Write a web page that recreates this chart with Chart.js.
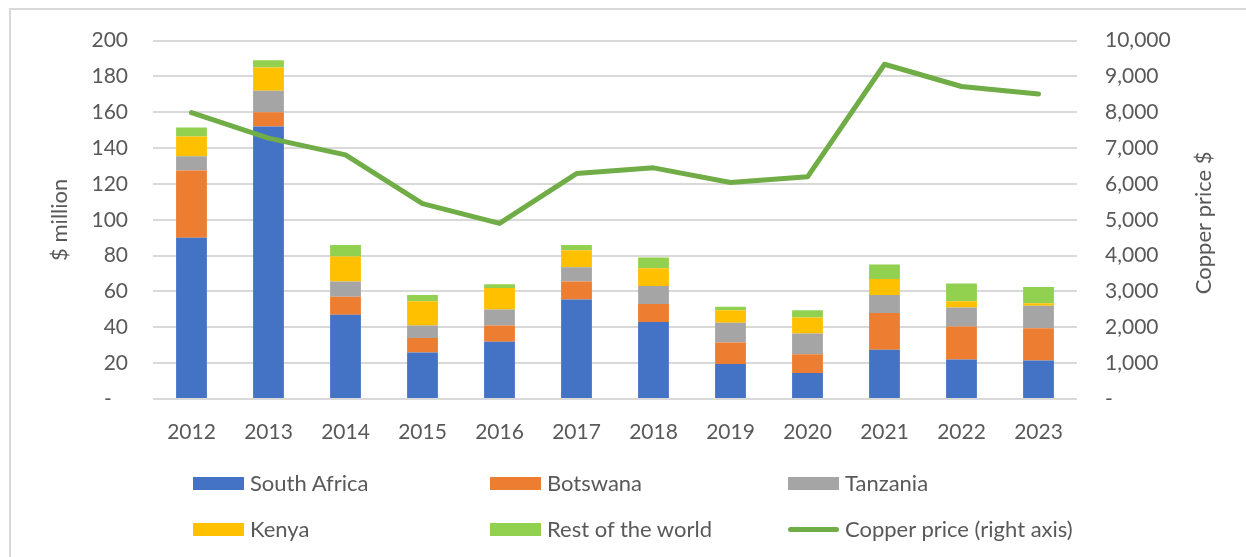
<!DOCTYPE html>
<html>
<head>
<meta charset="utf-8">
<title>Copper exports and copper price</title>
<script src="https://cdn.jsdelivr.net/npm/chart.js@4.4.1/dist/chart.umd.min.js"></script>
<style>
  html, body { margin: 0; padding: 0; background: #fff; }
  body { width: 1246px; height: 557px; overflow: hidden; position: relative; font-family: Lato, sans-serif; }
  #frame {
    position: absolute; left: 9px; top: 8px; width: 1300px; height: 600px;
    border-left: 2px solid #d9d9d9; border-top: 2px solid #d9d9d9;
  }
  #wrap { position: absolute; left: 0; top: 0; width: 1246px; height: 557px; }
  #legend {
    position: absolute; left: 193px; top: 470px;
    display: grid; grid-template-columns: 297px 298px 300px; row-gap: 20px;
    color: #595959; font-size: 22px; line-height: 26px;
  }
  .item { display: flex; align-items: center; height: 26px; }
  .swatch { width: 51px; height: 13px; margin-right: 6px; }
  .swatch.line { height: 5px; border-radius: 3px; }
</style>
</head>
<body>
<div id="frame"></div>
<div id="wrap"><canvas id="chart" width="1246" height="557"></canvas></div>
<div id="legend"></div>
<script>
// Years on the category axis
const years = ['2012', '2013', '2014', '2015', '2016', '2017', '2018', '2019', '2020', '2021', '2022', '2023'];

// Export values by destination, $ million
const southAfrica = [90, 152, 47, 26, 32, 55.5, 43, 19.5, 14.5, 27.5, 22, 21.5];
const botswana    = [37.5, 8, 10, 8, 9, 10, 10, 12, 10.5, 20.5, 18.5, 18];
const tanzania    = [8, 12, 8.5, 7, 9, 8, 10, 11, 11.5, 10, 10.5, 12.5];
const kenya       = [11, 13, 14, 13.5, 12, 9.5, 10, 7, 9, 9, 3.5, 1.5];
const restOfWorld = [5, 4, 6.5, 3.5, 2, 3, 6, 2, 4, 8, 10, 9];

// Average copper price, $ per tonne (right axis)
const copperPrice = [7990, 7280, 6810, 5450, 4900, 6290, 6450, 6040, 6200, 9340, 8720, 8510];

// Axis ranges and steps
const leftTicks = { min: 0, max: 200, step: 20 };
const rightTicks = { min: 0, max: 10000, step: 1000 };

const textColor = '#595959';
const gridColor = '#d9d9d9';

Chart.defaults.font.family = 'Lato, sans-serif';
Chart.defaults.color = textColor;

function barSet(label, data, color) {
  return {
    type: 'bar',
    label: label,
    data: data,
    backgroundColor: color,
    borderWidth: 0,
    yAxisID: 'y',
    order: 1,
    barPercentage: 0.8,
    categoryPercentage: 0.5
  };
}

// Right axis title reads bottom-to-top, so it is drawn by hand
const rightTitle = {
  id: 'rightTitle',
  afterDraw(chart) {
    const ctx = chart.ctx;
    const area = chart.chartArea;
    ctx.save();
    ctx.translate(1204, (area.top + area.bottom) / 2 + 3);
    ctx.rotate(-Math.PI / 2);
    ctx.fillStyle = textColor;
    ctx.font = '22px Lato, sans-serif';
    ctx.textAlign = 'center';
    ctx.textBaseline = 'middle';
    ctx.fillText('Copper price $', 0, 0);
    ctx.restore();
  }
};

const chart = new Chart(document.getElementById('chart'), {
  data: {
    labels: years,
    datasets: [
      barSet('South Africa', southAfrica, '#4472c4'),
      barSet('Botswana', botswana, '#ed7d31'),
      barSet('Tanzania', tanzania, '#a5a5a5'),
      barSet('Kenya', kenya, '#ffc000'),
      barSet('Rest of the world', restOfWorld, '#92d050'),
      {
        type: 'line',
        label: 'Copper price (right axis)',
        data: copperPrice,
        borderColor: '#70ad47',
        backgroundColor: '#70ad47',
        borderWidth: 5,
        borderCapStyle: 'round',
        borderJoinStyle: 'round',
        pointRadius: 0,
        tension: 0,
        yAxisID: 'y1',
        order: 0
      }
    ]
  },
  options: {
    responsive: false,
    animation: false,
    layout: { padding: { left: 40, top: 38, right: 18, bottom: 0 } },
    plugins: {
      legend: { display: false },
      tooltip: { enabled: false }
    },
    scales: {
      x: {
        stacked: true,
        grid: { display: false },
        border: { display: false },
        ticks: { font: { size: 21 }, color: textColor, padding: 13 },
        afterFit(scale) { scale.height = 158; }
      },
      y: {
        position: 'left',
        stacked: true,
        min: leftTicks.min,
        max: leftTicks.max,
        grid: { color: gridColor, lineWidth: 2, drawTicks: false },
        border: { display: false },
        ticks: {
          stepSize: leftTicks.step,
          font: { size: 21 },
          color: textColor,
          padding: 25,
          callback: v => v === 0 ? '-   ' : v
        },
        title: {
          display: true,
          text: '$ million',
          font: { size: 22 },
          color: textColor,
          padding: { top: 7, bottom: 0 }
        },
        afterFit(scale) { scale.width = 113; }
      },
      y1: {
        position: 'right',
        min: rightTicks.min,
        max: rightTicks.max,
        grid: { drawOnChartArea: false, drawTicks: false },
        border: { display: false },
        ticks: {
          stepSize: rightTicks.step,
          font: { size: 21 },
          color: textColor,
          padding: 28,
          callback: v => v === 0 ? '-' : v.toLocaleString('en-US')
        },
        afterFit(scale) { scale.width = 151; }
      }
    }
  },
  plugins: [rightTitle]
});

// Build the legend in three columns from the chart's own datasets
function renderLegend() {
  const legendEl = document.getElementById('legend');
  legendEl.innerHTML = '';
  chart.data.datasets.forEach(ds => {
    const item = document.createElement('div');
    item.className = 'item';
    const sw = document.createElement('span');
    sw.className = ds.type === 'line' ? 'swatch line' : 'swatch';
    sw.style.background = ds.type === 'line' ? ds.borderColor : ds.backgroundColor;
    const txt = document.createElement('span');
    txt.textContent = ds.label;
    item.appendChild(sw);
    item.appendChild(txt);
    legendEl.appendChild(item);
  });
}
renderLegend();
</script>
</body>
</html>
